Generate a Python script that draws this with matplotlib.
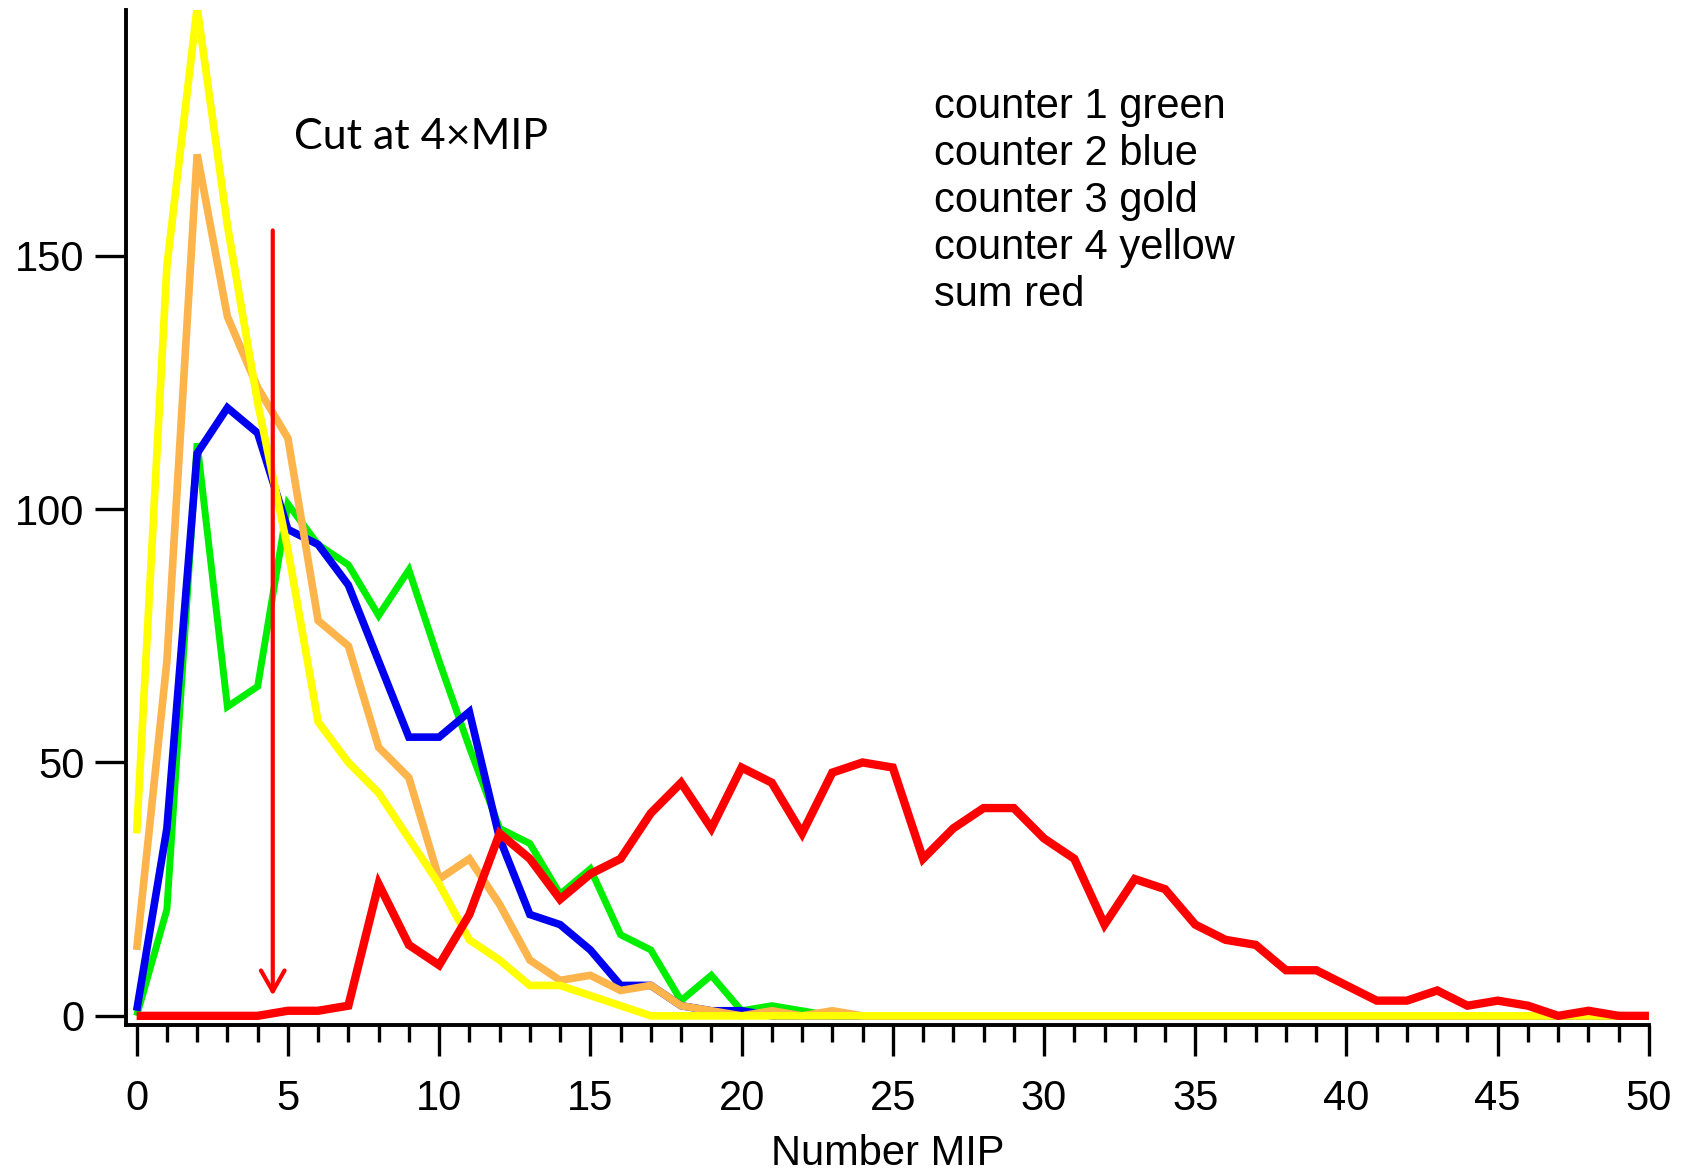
#!/usr/bin/env python3
"""MIP spectrum per counter plus sum - recreated line chart"""

import matplotlib
matplotlib.use('Agg')
import matplotlib.pyplot as plt

# number of MIP, 0..50
mip = list(range(51))

counter1_green = [0, 21, 113, 61, 65, 101, 93, 89, 79, 88,
                  70, 53, 37, 34, 24, 29, 16, 13, 3, 8,
                  1, 2, 1] + [0] * 28
counter2_blue = [1, 37, 111, 120, 115, 96, 93, 85, 70, 55,
                 55, 60, 35, 20, 18, 13, 6, 6, 2, 1,
                 1] + [0] * 30
counter3_gold = [13, 70, 170, 138, 124, 114, 78, 73, 53, 47,
                 27, 31, 22, 11, 7, 8, 5, 6, 2, 1,
                 0, 1, 0, 1] + [0] * 27
counter4_yellow = [36, 148, 199, 156, 121, 92, 58, 50, 44, 35,
                   26, 15, 11, 6, 6, 4, 2] + [0] * 34
sum_red = [0, 0, 0, 0, 0, 1, 1, 2, 26, 14,
           10, 20, 36, 31, 23, 28, 31, 40, 46, 37,
           49, 46, 36, 48, 50, 49, 31, 37, 41, 41,
           35, 31, 18, 27, 25, 18, 15, 14, 9, 9,
           6, 3, 3, 5, 2, 3, 2, 0, 1, 0, 0]

legend_lines = ["counter 1 green", "counter 2 blue", "counter 3 gold",
                "counter 4 yellow", "sum red"]
cut_label = "Cut at 4×MIP"
cut_x = 4.5
cut_top, cut_bottom = 155, 4

x_ticks = list(range(0, 51, 5))
y_ticks = [0, 50, 100, 150]

plt.rcParams['font.family'] = ['Liberation Sans', 'DejaVu Sans']

fig = plt.figure(figsize=(16.9, 11.75), dpi=100)
ax = fig.add_axes([0.0746, 0.1277, 0.9011, 0.8638])

series = [
    (counter1_green, '#00EE00', 5.0),
    (counter2_blue, '#0000F0', 5.5),
    (counter3_gold, '#FDB44B', 5.5),
    (counter4_yellow, '#FFFF00', 5.5),
    (sum_red, '#FF0000', 6.0),
]
for vals, col, lw in series:
    ax.plot(mip, vals, color=col, lw=lw, solid_joinstyle='miter',
            solid_capstyle='butt')

# cut arrow
ax.annotate('', xy=(cut_x, cut_bottom), xytext=(cut_x, cut_top),
            arrowprops=dict(arrowstyle='->,head_length=1.5,head_width=0.85',
                            color='#FF0000', lw=3.0,
                            shrinkA=0, shrinkB=0))
ax.text(5.2, 173.4, cut_label, fontsize=31, va='center', ha='left',
        family=['Lato', 'DejaVu Sans'])

for i, line in enumerate(legend_lines):
    ax.text(26.35, 179.3 - i * 9.27, line, fontsize=30,
            va='center', ha='left')

ax.set_xlim(-0.35, 50)
ax.set_ylim(-1.8, 198.5)
ax.set_xticks(x_ticks)
ax.set_xticks(mip, minor=True)
ax.set_yticks(y_ticks)

for side in ['top', 'right']:
    ax.spines[side].set_visible(False)
for side in ['left', 'bottom']:
    ax.spines[side].set_linewidth(2.8)

ax.tick_params(axis='both', which='major', direction='out', length=22,
               width=2.4, labelsize=30, colors='black')
ax.tick_params(axis='x', which='major', pad=17)
ax.tick_params(axis='y', which='major', pad=8)
ax.tick_params(axis='x', which='minor', direction='out', length=12, width=2.4)

ax.set_xlabel('Number MIP', fontsize=30, labelpad=11)

plt.savefig('out.png', dpi=100)
